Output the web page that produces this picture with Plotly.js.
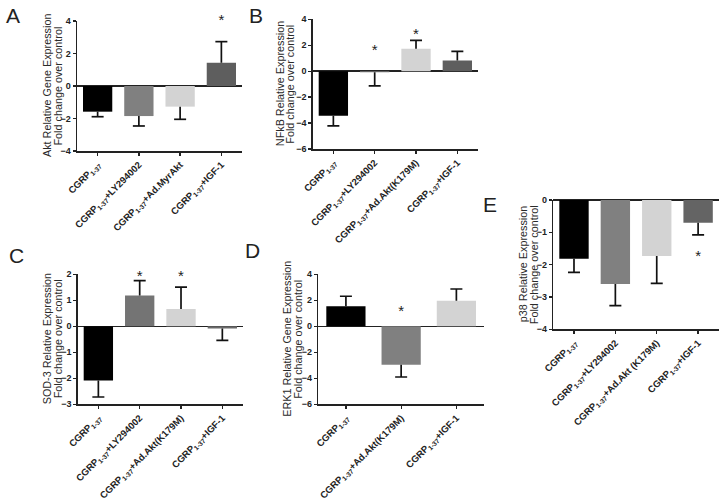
<!DOCTYPE html>
<html>
<head>
<meta charset="utf-8">
<script src="https://cdn.plot.ly/plotly-3.0.1.min.js"></script>
<style>html,body{margin:0;padding:0;background:#fff;}#chart{width:726px;height:501px;}</style>
</head>
<body>
<div id="chart"></div>
<script>
// ---------- data ----------
const catA = ["CGRP<sub>1-37</sub>", "CGRP<sub>1-37</sub>+LY294002", "CGRP<sub>1-37</sub>+Ad.MyrAkt", "CGRP<sub>1-37</sub>+IGF-1"];
const valA = [-1.58, -1.85, -1.27, 1.43];
const errA = [0.31, 0.61, 0.78, 1.30];
const starA = [null, null, null, 4.0];

const catB = ["CGRP<sub>1-37</sub>", "CGRP<sub>1-37</sub>+LY294002", "CGRP<sub>1-37</sub>+Ad.Akt(K179M)", "CGRP<sub>1-37</sub>+IGF-1"];
const valB = [-3.44, -0.08, 1.72, 0.82];
const errB = [0.78, 1.05, 0.65, 0.70];
const starB = [null, 1.54, 2.75, null];

const catC = ["CGRP<sub>1-37</sub>", "CGRP<sub>1-37</sub>+LY294002", "CGRP<sub>1-37</sub>+Ad.Akt(K179M)", "CGRP<sub>1-37</sub>+IGF-1"];
const valC = [-2.08, 1.18, 0.67, -0.08];
const errC = [0.64, 0.58, 0.84, 0.46];
const starC = [null, 1.9, 1.9, null];

const catD = ["CGRP<sub>1-37</sub>", "CGRP<sub>1-37</sub>+Ad.Akt(K179M)", "CGRP<sub>1-37</sub>+IGF-1"];
const valD = [1.54, -2.95, 1.97];
const errD = [0.77, 0.95, 0.90];
const starD = [null, 1.08, null];

const catE = ["CGRP<sub>1-37</sub>", "CGRP<sub>1-37</sub>+LY294002", "CGRP<sub>1-37</sub>+Ad.Akt (K179M)", "CGRP<sub>1-37</sub>+IGF-1"];
const valE = [-1.82, -2.60, -1.73, -0.70];
const errE = [0.42, 0.67, 0.85, 0.38];
const starE = [null, null, null, -1.77];

const titleA = ["Akt Relative Gene Expression", "Fold change over control"];
const titleB = ["NFkB Relative Expression", "Fold change over control"];
const titleC = ["SOD-3 Relative Expression", "Fold change over control"];
const titleD = ["ERK1 Relative Gene Expression", "Fold change over control"];
const titleE = ["p38 Relative Expression", "Fold change over control"];

const colA = ["#000000", "#808080", "#d3d3d3", "#5e5e5e"];
const colB = ["#000000", "#7a7a7a", "#d3d3d3", "#5e5e5e"];
const colC = ["#000000", "#747474", "#d3d3d3", "#6a6a6a"];
const colD = ["#000000", "#808080", "#d3d3d3"];
const colE = ["#000000", "#808080", "#d3d3d3", "#646464"];

// ---------- build ----------
const FONT = "Liberation Sans, Arial, sans-serif";
const W = 726, H = 501;
const panels = [
  {cat: catA, val: valA, err: errA, star: starA, col: colA, title: titleA, yr: [-4, 4], dt: 2,
   px: [77, 242], py: [21, 151], letter: "A", lp: [13, 16], tx: [47, 57.5]},
  {cat: catB, val: valB, err: errB, star: starB, col: colB, title: titleB, yr: [-6, 4], dt: 2,
   px: [312.7, 478], py: [19.3, 149], letter: "B", lp: [256, 16], tx: [280, 290.5]},
  {cat: catC, val: valC, err: errC, star: starC, col: colC, title: titleC, yr: [-3, 2], dt: 1,
   px: [77.7, 243], py: [274.3, 404.3], letter: "C", lp: [16, 256], tx: [47, 58]},
  {cat: catD, val: valD, err: errD, star: starD, col: colD, title: titleD, yr: [-6, 4], dt: 2,
   px: [318.3, 484], py: [274.3, 404.3], letter: "D", lp: [252, 250], tx: [287.5, 298.5]},
  {cat: catE, val: valE, err: errE, star: starE, col: colE, title: titleE, yr: [-4, 0], dt: 1,
   px: [553.3, 718.8], py: [200, 329.3], letter: "E", lp: [490, 205], tx: [522.5, 533.5]}
];

const traces = [];
const layout = {
  width: W, height: H,
  margin: {l: 0, r: 0, t: 0, b: 0},
  paper_bgcolor: "#fff", plot_bgcolor: "rgba(0,0,0,0)",
  showlegend: false,
  font: {family: FONT, color: "#222"},
  annotations: []
};

panels.forEach((p, k) => {
  const sfx = k === 0 ? "" : String(k + 1);
  const xa = "x" + sfx, ya = "y" + sfx;
  const n = p.cat.length;
  const idx = p.cat.map((_, i) => i);
  const spacingPx = (p.px[1] - p.px[0]) / n;
  const half = 6 / spacingPx;

  traces.push({
    type: "bar", x: idx, y: p.val, width: 0.71,
    marker: {color: p.col, line: {width: 0}},
    xaxis: xa, yaxis: ya, hoverinfo: "skip"
  });

  const ex = [], ey = [];
  p.val.forEach((v, i) => {
    const s = v < 0 ? -1 : 1;
    const tip = v + s * p.err[i];
    ex.push(i, i, null, i - half, i + half, null);
    ey.push(v, tip, null, tip, tip, null);
  });
  traces.push({
    type: "scatter", mode: "lines", x: ex, y: ey,
    line: {color: "#111", width: 1.7},
    xaxis: xa, yaxis: ya, hoverinfo: "skip", cliponaxis: false
  });

  traces.push({
    type: "scatter", mode: "text", x: idx, y: p.star,
    text: p.star.map(s => s === null ? "" : "*"),
    textposition: "middle center",
    textfont: {family: FONT, size: 15, color: "#222"},
    xaxis: xa, yaxis: ya, hoverinfo: "skip", cliponaxis: false
  });

  layout["xaxis" + sfx] = {
    domain: [p.px[0] / W, p.px[1] / W],
    anchor: ya, range: [-0.5, n - 0.5],
    tickmode: "array", tickvals: idx, ticktext: p.cat,
    tickangle: -45, ticks: "outside", ticklen: 3, tickwidth: 1.3, tickcolor: "#222",
    tickfont: {family: FONT, size: 9.5, color: "#222", weight: "bold"},
    showline: true, linecolor: "#222", linewidth: 1.5,
    showgrid: false, zeroline: false, fixedrange: true
  };
  layout["yaxis" + sfx] = {
    domain: [1 - p.py[1] / H, 1 - p.py[0] / H],
    anchor: xa, range: p.yr, dtick: p.dt, tick0: 0,
    ticks: "outside", ticklen: 3, tickwidth: 1.3, tickcolor: "#222",
    tickfont: {family: FONT, size: 9, color: "#222", weight: "bold"},
    showline: true, linecolor: "#222", linewidth: 1.5,
    showgrid: false, zeroline: true, zerolinecolor: "#222", zerolinewidth: 1.5,
    fixedrange: true
  };

  // y-axis title: two rotated lines
  p.title.forEach((line, j) => {
    layout.annotations.push({
      text: line, xref: "paper", yref: "paper", textangle: -90,
      x: p.tx[j] / W, y: 1 - ((p.py[0] + p.py[1]) / 2) / H,
      xanchor: "center", yanchor: "middle", showarrow: false,
      font: {family: FONT, size: 10.8, color: "#2a2a2a"}
    });
  });

  layout.annotations.push({
    text: p.letter, xref: "paper", yref: "paper",
    x: p.lp[0] / W, y: 1 - p.lp[1] / H, xanchor: "center", yanchor: "middle",
    showarrow: false, font: {family: FONT, size: 21, color: "#222"}
  });
});

Plotly.newPlot("chart", traces, layout, {staticPlot: true, displayModeBar: false});
</script>
</body>
</html>
